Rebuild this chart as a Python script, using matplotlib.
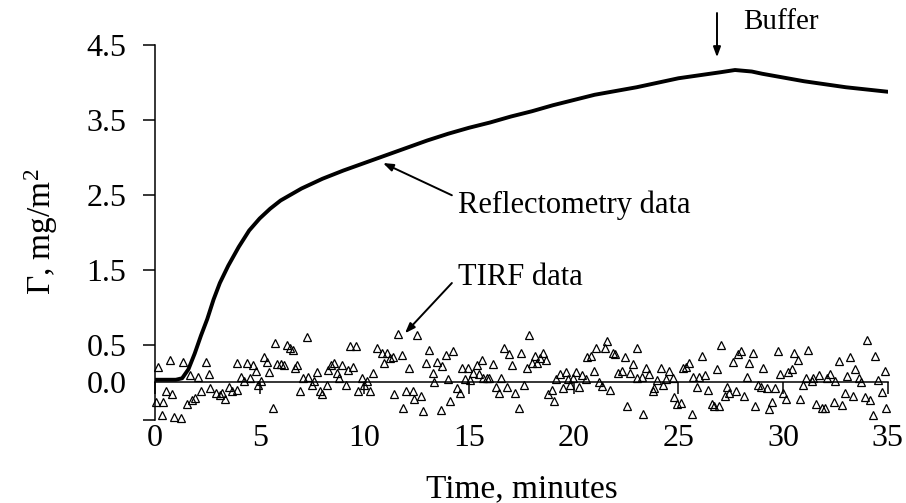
"""
Adsorbed amount vs time: reflectometry and TIRF
"""
import matplotlib
matplotlib.use('Agg')
import matplotlib.pyplot as plt

plt.rcParams['font.family'] = ['Liberation Serif', 'DejaVu Serif']
plt.rcParams['mathtext.default'] = 'regular'

# Reflectometry trace (minutes, mg/m2)
refl_t = [0, 0.5, 1.0, 1.3, 1.6, 1.9, 2.2, 2.5, 2.8, 3.1, 3.5, 4.0, 4.5, 5.0,
          5.5, 6.0, 7.0, 8.0, 9.0, 10.0, 11.0, 12.0, 13.0, 14.0, 15.0, 16.0,
          17.0, 18.0, 19.0, 20.0, 21.0, 22.0, 23.0, 24.0, 25.0, 26.0, 27.0,
          27.7, 28.5, 29.0, 30.0, 31.0, 32.0, 33.0, 34.0, 35.0]
refl_g = [0.03, 0.03, 0.03, 0.05, 0.17, 0.38, 0.62, 0.84, 1.10, 1.32, 1.55,
          1.80, 2.02, 2.18, 2.31, 2.42, 2.58, 2.71, 2.82, 2.92, 3.02, 3.12,
          3.22, 3.31, 3.39, 3.46, 3.54, 3.61, 3.69, 3.76, 3.83, 3.88, 3.93,
          3.99, 4.05, 4.09, 4.13, 4.16, 4.14, 4.11, 4.06, 4.01, 3.97, 3.93,
          3.90, 3.87]

# TIRF points (minutes, mg/m2)
tirf_t = [0.16, 0.05, 0.40, 0.32, 0.53, 0.72, 0.80, 0.92, 1.24, 1.32, 1.51,
          1.75, 1.91, 1.67, 2.07, 2.18, 2.43, 2.58, 2.64, 2.94, 3.10, 3.18,
          3.34, 3.55, 3.66, 3.90, 3.94, 4.10, 4.25, 4.41, 4.54, 4.66, 4.82,
          4.90, 5.06, 5.22, 5.33, 5.46, 5.62, 5.73, 5.81, 6.00, 6.16, 6.29,
          6.45, 6.58, 6.69, 6.77, 6.92, 7.05, 7.24, 7.32, 7.48, 7.59, 7.72,
          7.88, 8.00, 8.20, 8.28, 8.41, 8.55, 8.71, 8.80, 8.95, 9.12, 9.23,
          9.31, 9.44, 9.60, 9.71, 9.87, 10.00, 10.14, 10.27, 10.43, 10.59,
          10.82, 11.06, 10.94, 11.22, 11.38, 11.78, 11.62, 12.53, 12.15,
          11.41, 11.83, 11.99, 12.31, 12.39, 12.69, 12.78, 13.10, 12.94,
          13.26, 13.32, 13.48, 13.64, 13.71, 13.88, 14.01, 14.09, 14.25,
          14.41, 14.56, 14.64, 14.80, 14.96, 15.04, 15.20, 15.36, 15.49,
          15.60, 15.68, 15.84, 15.97, 16.13, 16.29, 16.44, 16.51, 16.67,
          16.83, 16.92, 17.06, 17.21, 17.37, 17.46, 17.62, 17.75, 17.84,
          17.99, 18.15, 18.23, 18.38, 18.54, 18.67, 18.78, 18.94, 19.07,
          19.15, 19.34, 19.47, 19.63, 19.74, 19.82, 19.95, 20.10, 20.27,
          20.38, 20.58, 20.65, 20.81, 20.97, 21.06, 21.19, 21.33, 21.51,
          21.60, 21.73, 21.89, 21.98, 22.12, 22.29, 22.44, 22.52, 22.68,
          22.84, 23.03, 23.00, 23.24, 23.45, 23.61, 23.77, 23.83, 23.29,
          23.99, 24.15, 24.24, 24.40, 24.56, 24.72, 24.79, 24.91, 25.10,
          25.20, 25.36, 25.52, 25.63, 25.71, 25.87, 26.00, 26.10, 26.26,
          26.42, 26.58, 26.69, 26.82, 26.95, 27.01, 27.22, 27.33, 27.43,
          27.59, 27.75, 27.86, 27.97, 28.13, 28.26, 28.38, 28.54, 28.66,
          28.82, 28.92, 29.05, 29.21, 29.34, 29.45, 29.61, 29.77, 29.85,
          30.00, 30.13, 30.24, 30.40, 30.53, 30.69, 30.80, 30.93, 31.09,
          31.20, 31.36, 31.44, 31.57, 31.73, 31.84, 32.00, 32.11, 32.23,
          32.43, 32.49, 32.65, 32.81, 32.95, 33.06, 33.19, 33.35, 33.44,
          33.60, 33.74, 33.90, 33.98, 34.14, 34.30, 34.38, 34.54, 34.70,
          34.86, 34.91]
tirf_g = [0.20, -0.26, -0.26, -0.44, -0.12, 0.30, -0.16, -0.46, -0.48, 0.27,
          -0.29, -0.24, -0.21, 0.09, 0.07, -0.12, 0.27, 0.11, -0.08, -0.14,
          -0.17, -0.15, -0.23, -0.06, -0.12, -0.10, 0.26, 0.07, 0.02, 0.26,
          0.05, 0.23, 0.15, -0.04, 0.02, 0.33, 0.27, 0.13, -0.35, 0.52, 0.24,
          0.24, 0.23, 0.49, 0.45, 0.43, 0.19, 0.23, -0.12, 0.05, 0.60, 0.07,
          -0.04, 0.02, 0.14, -0.12, -0.16, -0.04, 0.16, 0.23, 0.25, 0.12,
          0.05, 0.23, -0.04, 0.16, 0.48, 0.20, 0.48, -0.12, 0.05, -0.04, 0.02,
          -0.12, 0.12, 0.45, 0.39, 0.39, 0.25, 0.32, 0.34, 0.36, 0.64, 0.63,
          0.19, -0.16, -0.34, -0.12, -0.12, -0.22, -0.19, -0.39, 0.43, 0.26,
          0.12, 0.00, 0.27, -0.37, 0.21, 0.36, 0.04, -0.25, 0.41, -0.08,
          -0.14, 0.19, 0.04, 0.19, 0.03, 0.12, 0.23, 0.11, 0.30, 0.06, 0.06,
          0.06, 0.24, -0.06, -0.14, 0.06, 0.46, -0.06, 0.38, 0.23, -0.14,
          -0.34, 0.39, -0.04, 0.19, 0.63, 0.25, 0.35, 0.26, 0.32, 0.39, 0.29,
          -0.16, -0.10, -0.25, 0.04, 0.11, -0.08, 0.14, 0.04, -0.04, 0.05,
          0.14, -0.06, 0.09, 0.04, 0.33, 0.35, 0.15, 0.45, 0.00, -0.05, 0.45,
          0.55, -0.10, 0.39, 0.37, 0.12, 0.15, 0.33, -0.32, 0.12, 0.24, 0.05,
          0.45, 0.07, 0.19, 0.11, -0.12, -0.08, -0.42, 0.03, 0.19, -0.04,
          0.04, 0.15, 0.05, -0.20, -0.29, -0.28, 0.19, 0.20, 0.26, -0.42,
          0.07, -0.06, 0.07, 0.35, 0.09, -0.10, -0.29, -0.32, 0.17, -0.32,
          0.49, -0.19, -0.06, -0.14, 0.27, -0.12, 0.37, 0.41, -0.19, 0.07,
          0.26, 0.39, -0.32, -0.04, -0.06, 0.19, -0.08, -0.36, -0.26, -0.08,
          0.41, 0.11, -0.14, -0.23, 0.14, 0.18, 0.39, 0.30, -0.22, -0.04,
          0.05, 0.43, 0.02, 0.05, -0.29, 0.09, -0.35, -0.35, 0.05, 0.11,
          -0.26, 0.02, 0.28, -0.31, -0.15, 0.08, 0.33, -0.19, 0.17, 0.05,
          0.00, -0.20, 0.56, -0.24, -0.44, 0.35, 0.03, -0.13, 0.15, -0.35]

y_ticks = [-0.5, 0.5, 1.5, 2.5, 3.5, 4.5]
y_ticklabels = ['', '0.5', '1.5', '2.5', '3.5', '4.5']
x_ticks = [0, 5, 10, 15, 20, 25, 30, 35]

fig = plt.figure(figsize=(9.06, 5.03), dpi=100, facecolor='white')
ax = fig.add_axes([0.171, 0.166, 0.809, 0.7455])

ax.plot(tirf_t, tirf_g, linestyle='none', marker='^', markersize=5.5,
        markerfacecolor='none', markeredgecolor='black', markeredgewidth=0.9,
        clip_on=False, zorder=3)
ax.plot(refl_t, refl_g, color='black', linewidth=2.8, solid_joinstyle='round',
        solid_capstyle='round', zorder=4)

ax.set_xlim(0, 35)
ax.set_ylim(-0.5, 4.5)

# axes: left spine full height, x axis crossing at zero
ax.spines['top'].set_visible(False)
ax.spines['right'].set_visible(False)
ax.spines['bottom'].set_position(('data', 0))
ax.spines['left'].set_linewidth(1.1)
ax.spines['bottom'].set_linewidth(1.1)

ax.set_xticks(x_ticks)
ax.set_xticklabels([str(v) for v in x_ticks])
ax.tick_params(axis='x', direction='out', length=8.5, width=1.1, pad=22,
               labelsize=23)
ax.set_yticks(y_ticks)
ax.set_yticklabels(y_ticklabels)
ax.tick_params(axis='y', direction='out', length=8.5, width=1.1, pad=12,
               labelsize=23)
ax.set_yticks([0], minor=True)
ax.set_yticklabels(['0.0'], minor=True)
ax.tick_params(axis='y', which='minor', length=0, pad=20.5, labelsize=23)

ax.set_xlabel('Time, minutes', fontsize=24)
ax.xaxis.set_label_coords(0.5, -0.145)
ax.set_ylabel('Γ, mg/m$^2$', fontsize=24)
ax.yaxis.set_label_coords(-0.129, 0.5)

arrow = dict(arrowstyle='-|>,head_length=0.6,head_width=0.22', color='black',
             lw=1.4, shrinkA=0, shrinkB=0)
ax.annotate('', xy=(26.84, 4.33), xytext=(26.84, 4.92), arrowprops=arrow,
            annotation_clip=False)
ax.text(28.08, 4.8, 'Buffer', fontsize=21, ha='left', va='center')
ax.annotate('', xy=(10.89, 2.92), xytext=(14.18, 2.49), arrowprops=arrow)
ax.text(14.47, 2.36, 'Reflectometry data', fontsize=22, ha='left', va='center')
ax.annotate('', xy=(11.94, 0.65), xytext=(14.18, 1.32), arrowprops=arrow)
ax.text(14.47, 1.39, 'TIRF data', fontsize=22, ha='left', va='center')

plt.savefig('out.png', dpi=100, facecolor='white')
plt.close()
